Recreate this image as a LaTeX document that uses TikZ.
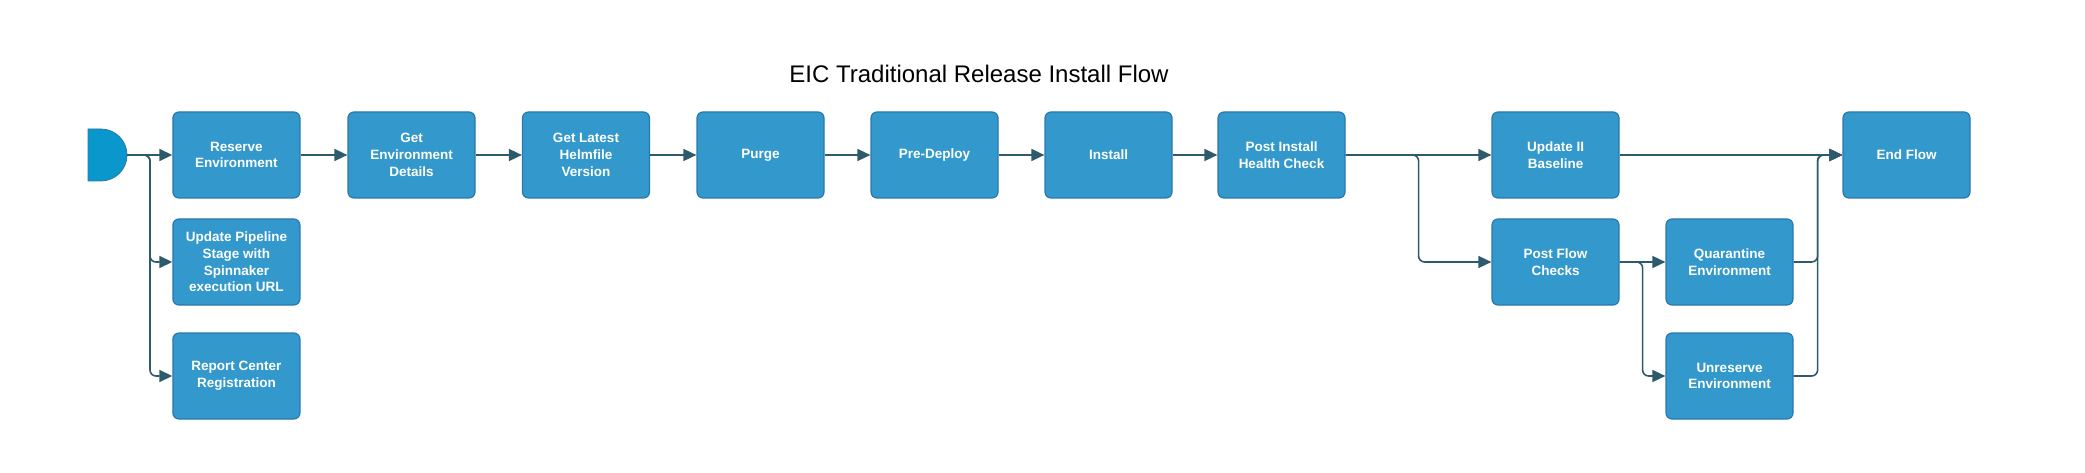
\documentclass[tikz,border=0pt]{standalone}
\usepackage{fontspec}
\setmainfont{Liberation Sans}
\usetikzlibrary{arrows.meta}
\definecolor{boxfill}{HTML}{3399CC}
\definecolor{boxline}{HTML}{2A78AC}
\definecolor{startfill}{HTML}{0A97CB}
\definecolor{connc}{HTML}{2E5B6C}
\tikzset{
  stepbox/.style={draw=boxline, line width=1.2pt, fill=boxfill, rounded corners=6pt,
    minimum width=127pt, minimum height=86pt, inner sep=2pt, align=center, text=white,
    font=\fontsize{13.5}{16.7}\selectfont\bfseries},
  conn/.style={draw=connc, line width=1.6pt, rounded corners=6pt,
    -{Triangle[length=13pt,width=12pt]}},
}
\begin{document}
\begin{tikzpicture}[x=1pt,y=-1pt]
\useasboundingbox (0,0) rectangle (2085,473);
\node[font=\fontsize{24}{28}\selectfont] (title) at (979,74) {EIC Traditional Release Install Flow};
% start shape
\fill[startfill, draw=boxline, line width=0.8pt] (88,129) -- (101,129) arc[start angle=-90, end angle=90, radius=26] -- (88,181) -- cycle;
\coordinate (start) at (127,155);
\node[stepbox] (reserve) at (236.4,155) {Reserve\\Environment};
\node[stepbox] (upd) at (236.4,262) {Update Pipeline\\Stage with\\Spinnaker\\execution URL};
\node[stepbox] (report) at (236.4,376) {Report Center\\Registration};
\node[stepbox] (getenv) at (411.5,155) {Get\\Environment\\Details};
\node[stepbox] (helm) at (586,155) {Get Latest\\Helmfile\\Version};
\node[stepbox] (purge) at (760.5,155) {Purge};
\node[stepbox] (pre) at (934.5,155) {Pre-Deploy};
\node[stepbox] (install) at (1108.5,155) {Install};
\node[stepbox] (health) at (1281.5,155) {Post Install\\Health Check};
\node[stepbox] (baseline) at (1555.5,155) {Update II\\Baseline};
\node[stepbox] (pfc) at (1555.5,262) {Post Flow\\Checks};
\node[stepbox] (quar) at (1729.5,262) {Quarantine\\Environment};
\node[stepbox] (unres) at (1729.5,376) {Unreserve\\Environment};
\node[stepbox] (endf) at (1906.5,155) {End Flow};
% connectors
\draw[conn] (start) -- (reserve.west);
\draw[conn] (start) -- ++(23,0) |- (upd.west);
\draw[conn] (start) -- ++(23,0) |- (report.west);
\draw[conn] (reserve) -- (getenv);
\draw[conn] (getenv) -- (helm);
\draw[conn] (helm) -- (purge);
\draw[conn] (purge) -- (pre);
\draw[conn] (pre) -- (install);
\draw[conn] (install) -- (health);
\draw[conn] (health) -- (baseline);
\draw[conn] (health.east) -- ++(73,0) |- (pfc.west);
\draw[conn] (pfc) -- (quar);
\draw[conn] (pfc.east) -- ++(23,0) |- (unres.west);
\draw[conn] (baseline) -- (endf);
\draw[conn] (quar.east) -- ++(24,0) |- (endf.west);
\draw[conn] (unres.east) -- ++(24,0) |- (endf.west);
\end{tikzpicture}
\end{document}
